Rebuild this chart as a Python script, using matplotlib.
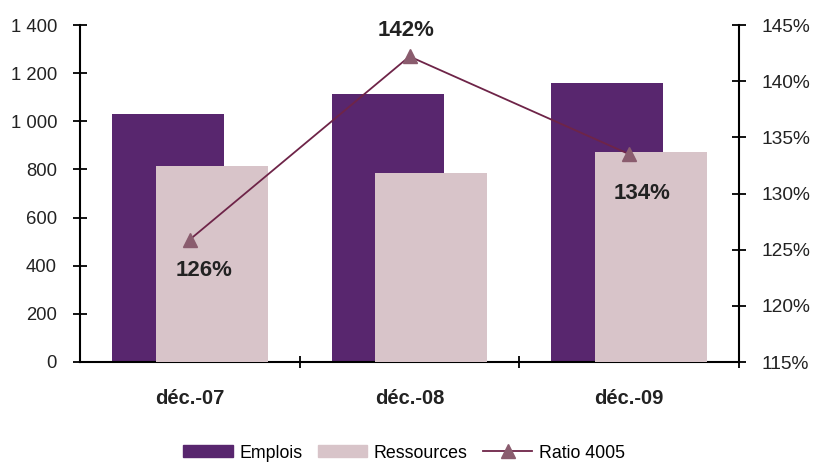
import matplotlib
matplotlib.use("Agg")
import matplotlib.pyplot as plt
import numpy as np
from matplotlib.lines import Line2D
from matplotlib.patches import Patch

categories = ["déc.-07", "déc.-08", "déc.-09"]
emplois = [1030, 1113, 1160]
ressources = [816, 785, 871]
ratio = [125.9, 142.2, 133.5]
ratio_labels = ["126%", "142%", "134%"]
left_ticks = [0, 200, 400, 600, 800, 1000, 1200, 1400]
left_tick_labels = ["0", "200", "400", "600", "800", "1 000", "1 200", "1 400"]
right_ticks = [115, 120, 125, 130, 135, 140, 145]

plt.rcParams['font.family'] = ['Liberation Sans', 'DejaVu Sans']

c_emp = "#58266E"
c_res = "#D8C4C9"
c_line = "#6E2448"
c_mark = "#8A5C6E"

fig = plt.figure(figsize=(8.13, 4.62), dpi=100)
ax = fig.add_axes([80/813, 1-362/462, (739-80)/813, (362-25)/462])
x = np.arange(len(categories))
w = 0.51
off = 0.1
ax.bar(x - off, emplois, width=w, color=c_emp, zorder=2)
ax.bar(x + off, ressources, width=w, color=c_res, zorder=3)
ax.set_xlim(-0.5, 2.5)
ax.set_ylim(0, 1400)
ax.set_yticks(left_ticks)
ax.set_yticklabels(left_tick_labels, fontsize=13.3, color="#222222")
ax.set_xticks(x)
ax.set_xticklabels(categories, fontsize=14.5, fontweight="bold", color="#222222")
ax.set_xticks([0.5, 1.5, 2.5], minor=True)
ax.tick_params(axis='x', which='major', length=0, pad=19.5)
ax.tick_params(axis='x', which='minor', direction='inout', length=8, width=1.3)
ax.tick_params(axis='y', direction='inout', length=10, width=1.3, pad=11.5)
for s in ['top', 'right']:
    ax.spines[s].set_visible(False)
for s in ['left', 'bottom']:
    ax.spines[s].set_linewidth(1.5)

ax2 = ax.twinx()
ax2.set_ylim(115, 145)
ax2.set_yticks(right_ticks)
ax2.set_yticklabels([f"{t}%" for t in right_ticks], fontsize=13.8, color="#222222")
ax2.tick_params(axis='y', direction='inout', length=10.5, width=1.3, pad=10.8)
for s in ['top', 'left', 'bottom']:
    ax2.spines[s].set_visible(False)
ax2.spines['right'].set_linewidth(1.5)
ax2.plot(x, ratio, color=c_line, lw=1.3, marker='^', markersize=10,
         markerfacecolor=c_mark, markeredgecolor=c_mark, zorder=5)

label_font = dict(fontsize=16, fontweight="bold", color="#222222",
                  ha='center', va='center')
offsets = [(14, -31), (-3, 26), (13, -39)]
for xi, r, lab, (ox, oy) in zip(x, ratio, ratio_labels, offsets):
    ax2.annotate(lab, (xi, r), xytext=(ox, oy), textcoords='offset pixels', **label_font)

handles = [Patch(color=c_emp), Patch(color=c_res),
           Line2D([0], [0], color=c_line, lw=1.3, marker='^', markersize=10,
                  markerfacecolor=c_mark, markeredgecolor=c_mark)]
fig.legend(handles, ["Emplois", "Ressources", "Ratio 4005"], loc='center',
           bbox_to_anchor=(0.497, 1-453/462), ncol=3, frameon=False, fontsize=12.8,
           handlelength=2.8, handleheight=0.68, columnspacing=0.85, handletextpad=0.35)

fig.savefig("out.png", dpi=100)
